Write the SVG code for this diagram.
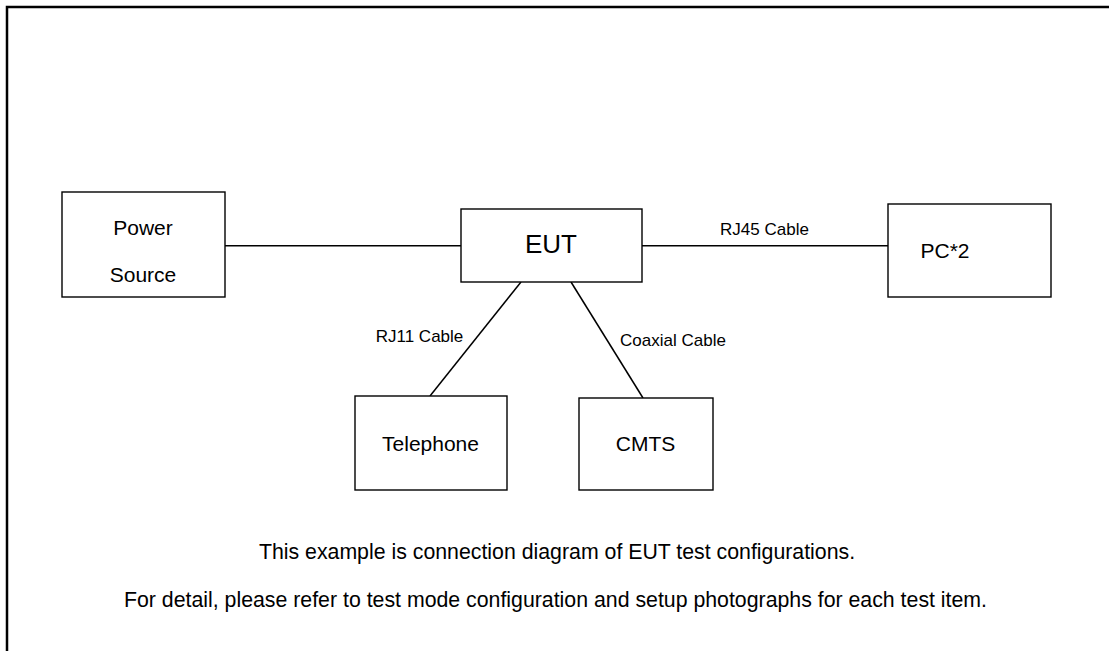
<svg xmlns="http://www.w3.org/2000/svg" width="1109" height="651" viewBox="0 0 1109 651">
<style>
.box{fill:#fff;stroke:#000;stroke-width:1.4}
.wire{stroke:#000;stroke-width:1.5;fill:none}
text{font-family:"Liberation Sans",Arial,sans-serif;fill:#000;text-anchor:middle}
.n{font-size:21px}
.lbl{font-size:17px}
.note{font-size:21.3px}
</style>
<rect x="0" y="0" width="1109" height="651" fill="#fff"/>
<path d="M7,651 V7 H1109" fill="none" stroke="#000" stroke-width="2.5"/>
<g id="connectors">
<line class="wire" x1="225" y1="245.7" x2="461" y2="245.7"/>
<line class="wire" x1="642" y1="245.7" x2="888" y2="245.7"/>
<line class="wire" x1="521" y1="282" x2="430" y2="396"/>
<line class="wire" x1="571" y1="282" x2="643" y2="398"/>
<text class="lbl" x="764.5" y="235">RJ45 Cable</text>
<text class="lbl" x="419.5" y="342">RJ11 Cable</text>
<text class="lbl" x="673" y="346">Coaxial Cable</text>
</g>
<g id="power">
<rect class="box" x="62" y="192" width="163" height="105"/>
<text class="n" x="143" y="235">Power</text>
<text class="n" x="143" y="282">Source</text>
</g>
<g id="eut">
<rect class="box" x="461" y="209" width="181" height="73"/>
<text x="551" y="253" style="font-size:26px">EUT</text>
</g>
<g id="pc">
<rect class="box" x="888" y="204" width="163" height="93"/>
<text class="n" x="945" y="258">PC*2</text>
</g>
<g id="telephone">
<rect class="box" x="355" y="396" width="152" height="94"/>
<text class="n" x="430.5" y="451">Telephone</text>
</g>
<g id="cmts">
<rect class="box" x="579" y="398" width="134" height="92"/>
<text class="n" x="645.5" y="451">CMTS</text>
</g>
<g id="notes">
<text class="note" x="557" y="559">This example is connection diagram of EUT test configurations.</text>
<text class="note" x="555.5" y="607">For detail, please refer to test mode configuration and setup photographs for each test item.</text>
</g>
</svg>
